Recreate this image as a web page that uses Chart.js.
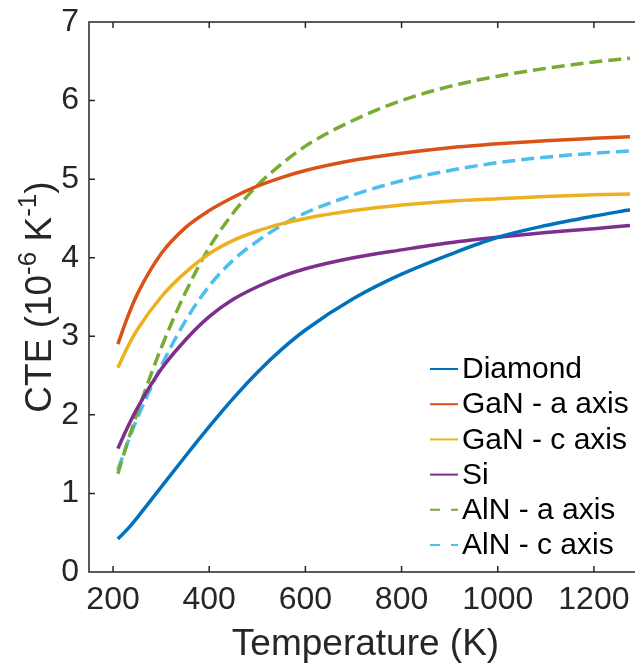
<!DOCTYPE html>
<html>
<head>
<meta charset="utf-8">
<title>CTE vs Temperature</title>
<script src="https://cdn.jsdelivr.net/npm/chart.js@4.4.0/dist/chart.umd.min.js"></script>
<style>
    html, body {
        margin: 0;
        padding: 0;
        background: #fff;
        overflow: hidden;
    }
    #wrap {
        position: relative;
        width: 650px;
        height: 664px;
    }
</style>
</head>
<body>
<div id="wrap">
    <canvas id="cteChart"></canvas>
</div>
<script>
// Temperature (K) and thermal expansion coefficients (10^-6 K^-1)
var temps = [210, 230, 250, 300, 350, 400, 450, 500, 550, 600, 700, 800, 900, 1000, 1100, 1200, 1275];

var diamond = [0.42, 0.545, 0.69, 1.08, 1.47, 1.85, 2.21, 2.54, 2.83, 3.08, 3.48, 3.79, 4.04, 4.26, 4.41, 4.53, 4.61];
var ganA = [2.90, 3.24, 3.53, 4.05, 4.38, 4.60, 4.77, 4.91, 5.02, 5.11, 5.24, 5.33, 5.40, 5.45, 5.49, 5.52, 5.54];
var ganC = [2.60, 2.86, 3.08, 3.50, 3.81, 4.05, 4.22, 4.34, 4.43, 4.50, 4.60, 4.67, 4.72, 4.75, 4.78, 4.80, 4.81];
var si = [1.57, 1.84, 2.08, 2.58, 2.95, 3.25, 3.47, 3.63, 3.76, 3.86, 4.00, 4.10, 4.19, 4.26, 4.32, 4.37, 4.41];
var alnA = [1.25, 1.65, 2.02, 2.85, 3.55, 4.13, 4.57, 4.92, 5.19, 5.42, 5.75, 6.00, 6.18, 6.31, 6.41, 6.49, 6.54];
var alnC = [1.30, 1.64, 1.95, 2.62, 3.19, 3.64, 3.97, 4.21, 4.41, 4.57, 4.80, 4.98, 5.11, 5.21, 5.28, 5.33, 5.36];

var xTicks = [200, 400, 600, 800, 1000, 1200];
var yTicks = [0, 1, 2, 3, 4, 5, 6, 7];

var FONT = '"Liberation Sans", Arial, Helvetica, sans-serif';
var AXIS_COLOR = '#262626';

function toPoints(values) {
    var pts = [];
    for (var i = 0; i < temps.length; i++) {
        pts.push({ x: temps[i], y: values[i] });
    }
    return pts;
}

function makeSeries(label, values, color, dashed) {
    return {
        label: label,
        data: toPoints(values),
        borderColor: color,
        backgroundColor: color,
        borderWidth: 3.5,
        borderDash: dashed ? [13, 6] : [],
        pointRadius: 0,
        fill: false,
        cubicInterpolationMode: 'monotone'
    };
}

function noPadding(scale) {
    scale.paddingLeft = 0;
    scale.paddingRight = 0;
    scale.paddingTop = 0;
    scale.paddingBottom = 0;
}

// axis box, inward ticks, axis titles and the legend
var framePlugin = {
    id: 'frame',
    afterDraw: function (chart) {
        var ctx = chart.ctx;
        var area = chart.chartArea;
        var xs = chart.scales.x;
        var ys = chart.scales.y;
        var tick = 6;

        ctx.save();
        ctx.strokeStyle = AXIS_COLOR;
        ctx.lineWidth = 1.5;
        ctx.setLineDash([]);
        ctx.beginPath();
        ctx.moveTo(area.right + 2, area.top);
        ctx.lineTo(area.left, area.top);
        ctx.lineTo(area.left, area.bottom);
        ctx.lineTo(area.right + 2, area.bottom);

        xTicks.forEach(function (t) {
            var px = xs.getPixelForValue(t);
            ctx.moveTo(px, area.bottom);
            ctx.lineTo(px, area.bottom - tick);
            ctx.moveTo(px, area.top);
            ctx.lineTo(px, area.top + tick);
        });
        yTicks.forEach(function (t) {
            var py = ys.getPixelForValue(t);
            ctx.moveTo(area.left, py);
            ctx.lineTo(area.left + tick, py);
        });
        ctx.stroke();

        // x title
        ctx.fillStyle = AXIS_COLOR;
        ctx.font = '37px ' + FONT;
        ctx.textAlign = 'center';
        ctx.textBaseline = 'alphabetic';
        ctx.fillText('Temperature (K)', (area.left + area.right) / 2, 655);

        // y title with superscripts
        var parts = [
            { t: 'CTE (10', size: 37, rise: 0 },
            { t: '-6', size: 26, rise: 15 },
            { t: ' K', size: 37, rise: 0 },
            { t: '-1', size: 26, rise: 15 },
            { t: ')', size: 37, rise: 0 }
        ];
        var total = 0;
        parts.forEach(function (p) {
            ctx.font = p.size + 'px ' + FONT;
            p.w = ctx.measureText(p.t).width;
            total += p.w;
        });
        ctx.translate(51, (area.top + area.bottom) / 2);
        ctx.rotate(-Math.PI / 2);
        ctx.textAlign = 'left';
        var cx = -total / 2;
        parts.forEach(function (p) {
            ctx.font = p.size + 'px ' + FONT;
            ctx.fillText(p.t, cx, -p.rise);
            cx += p.w;
        });
        ctx.restore();

        // legend
        ctx.save();
        ctx.font = '30px ' + FONT;
        ctx.textAlign = 'left';
        ctx.textBaseline = 'middle';
        chart.data.datasets.forEach(function (ds, i) {
            var y = 369 + i * 35.2;
            ctx.strokeStyle = ds.borderColor;
            ctx.lineWidth = 2;
            ctx.setLineDash(ds.borderDash.length ? [10, 11] : []);
            ctx.beginPath();
            ctx.moveTo(430, y);
            ctx.lineTo(458, y);
            ctx.stroke();
            ctx.fillStyle = '#000';
            ctx.fillText(ds.label, 462, y + 1);
        });
        ctx.restore();
    }
};

var ctx = document.getElementById('cteChart').getContext('2d');
var cteChart = new Chart(ctx, {
    type: 'line',
    data: {
        datasets: [
            makeSeries('Diamond', diamond, '#0072BD', false),
            makeSeries('GaN - a axis', ganA, '#D95319', false),
            makeSeries('GaN - c axis', ganC, '#EDB120', false),
            makeSeries('Si', si, '#7E2F8E', false),
            makeSeries('AlN - a axis', alnA, '#77AC30', true),
            makeSeries('AlN - c axis', alnC, '#4DBEEE', true)
        ]
    },
    options: {
        responsive: true,
        maintainAspectRatio: false,
        animation: false,
        layout: {
            padding: { top: 22, right: 8, left: 0, bottom: 0 }
        },
        plugins: {
            legend: { display: false },
            tooltip: { enabled: false }
        },
        scales: {
            x: {
                type: 'linear',
                min: 150,
                max: 1300,
                border: { display: false },
                grid: { display: false, drawTicks: false },
                afterBuildTicks: function (scale) {
                    scale.ticks = xTicks.map(function (v) { return { value: v }; });
                },
                afterFit: function (scale) {
                    scale.height = 92;
                    noPadding(scale);
                },
                ticks: {
                    padding: 9,
                    color: AXIS_COLOR,
                    maxRotation: 0,
                    autoSkip: false,
                    font: { family: FONT, size: 32 },
                    callback: function (v) { return String(v); }
                }
            },
            y: {
                min: 0,
                max: 7,
                border: { display: false },
                grid: { display: false, drawTicks: false },
                afterBuildTicks: function (scale) {
                    scale.ticks = yTicks.map(function (v) { return { value: v }; });
                },
                afterFit: function (scale) {
                    scale.width = 89;
                    noPadding(scale);
                },
                ticks: {
                    padding: 10,
                    color: AXIS_COLOR,
                    font: { family: FONT, size: 32 }
                }
            }
        }
    },
    plugins: [framePlugin]
});
</script>
</body>
</html>
